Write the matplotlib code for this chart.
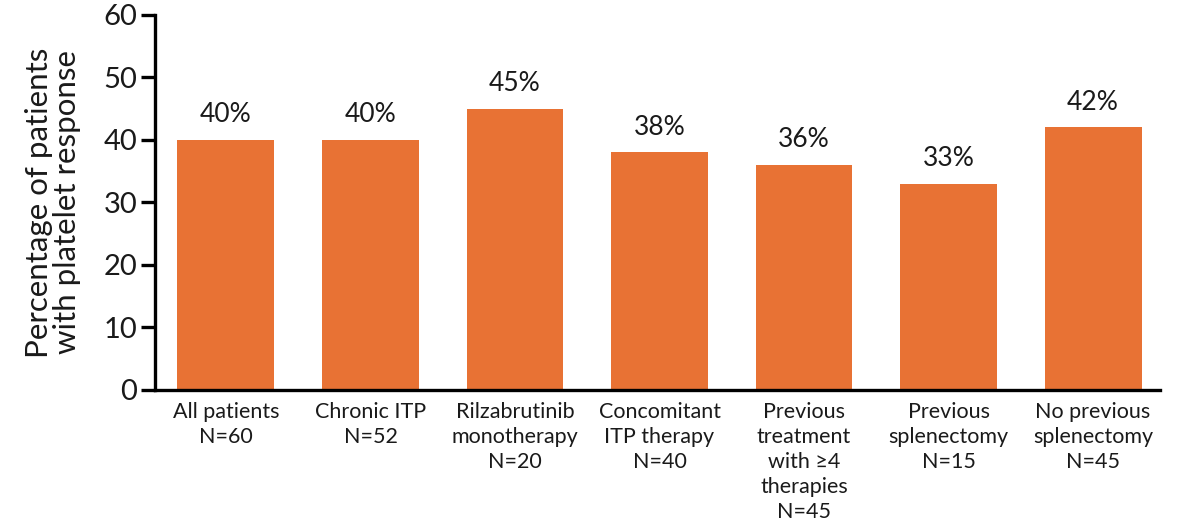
import numpy as np
import matplotlib.pyplot as plt

plt.rcParams['font.family'] = ['Lato', 'DejaVu Sans']

categories = ['All patients\nN=60', 'Chronic ITP\nN=52', 'Rilzabrutinib\nmonotherapy\nN=20',
              'Concomitant\nITP therapy\nN=40', 'Previous\ntreatment\nwith \u22654\ntherapies\nN=45',
              'Previous\nsplenectomy\nN=15', 'No previous\nsplenectomy\nN=45']
response = [40, 40, 45, 38, 36, 33, 42]

BAR_COLOR = '#E87234'
TEXT_COLOR = '#1a1a1a'

fig = plt.figure(figsize=(11.93, 5.32), dpi=100)
ax = fig.add_axes([0.13, 0.267, 0.842, 0.705])

x = np.arange(len(categories))
ax.bar(x, response, width=0.67, color=BAR_COLOR, zorder=2)

# value labels above each bar
for xi, v in zip(x, response):
    ax.text(xi, v + 2.0, f'{v}%', ha='center', va='bottom', fontsize=19, color=TEXT_COLOR)

ax.set_xlim(-0.49, 6.46)
ax.set_ylim(0, 60)
ax.set_yticks(np.arange(0, 61, 10))
ax.tick_params(axis='y', labelsize=21, width=2.4, length=10, pad=3, color='black',
               labelcolor=TEXT_COLOR)
ax.set_xticks(x)
ax.set_xticklabels(categories, fontsize=15.5, linespacing=1.3, color=TEXT_COLOR)
ax.tick_params(axis='x', length=0, pad=9)

for side in ['top', 'right']:
    ax.spines[side].set_visible(False)
for side in ['left', 'bottom']:
    ax.spines[side].set_linewidth(2.4)

ax.set_ylabel('Percentage of patients\nwith platelet response', fontsize=22.5, labelpad=16,
              linespacing=1.0, color=TEXT_COLOR)

fig.savefig('out.png', dpi=100)
